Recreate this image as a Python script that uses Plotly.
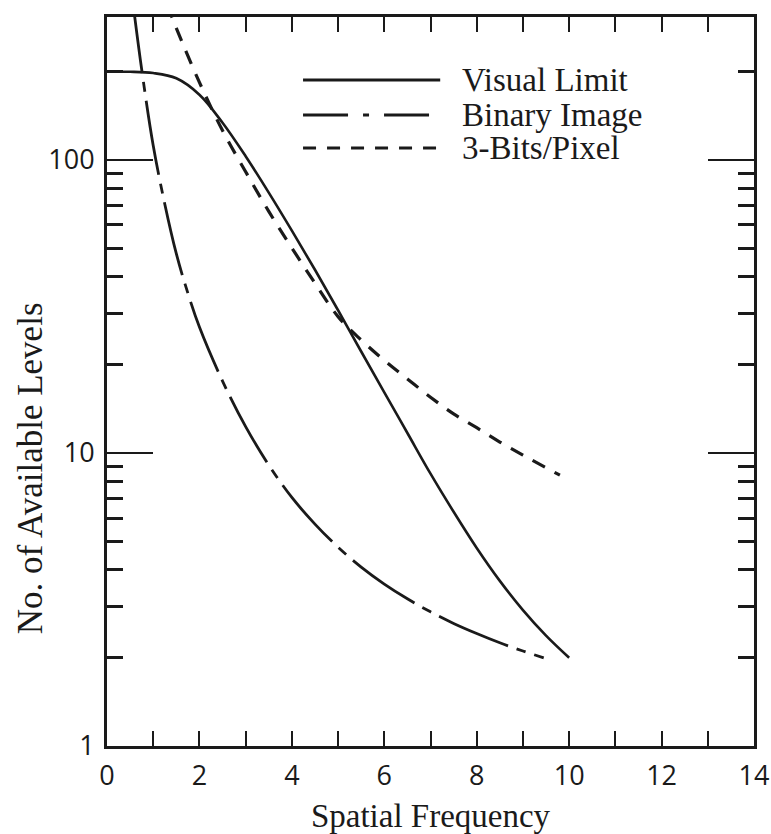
import plotly.graph_objects as go

# ---- data ----
visual_x = [0, 0.5, 1.0, 1.5, 2.0, 2.5, 3.0, 3.5, 4.0, 4.5, 5.0, 5.5, 6.0, 6.5, 7.0, 7.5, 8.0, 8.5, 9.0, 9.5, 10.0]
visual_y = [200, 200, 198, 190, 167, 134, 103, 77.4, 57.4, 42.2, 30.7, 22.2, 16.1, 11.7, 8.5, 6.3, 4.74, 3.66, 2.91, 2.38, 2.0]

binary_x = [0.55, 0.75, 1.0, 1.25, 1.5, 1.75, 2.0, 2.5, 3.0, 3.5, 4.0, 4.5, 5.0, 5.5, 6.0, 6.5, 7.0, 7.5, 8.0, 8.5, 9.0, 9.45]
binary_y = [355, 204, 112, 70.8, 47.9, 35.1, 26.9, 17.6, 12.3, 9.1, 7.05, 5.72, 4.77, 4.08, 3.57, 3.18, 2.87, 2.62, 2.42, 2.25, 2.11, 2.0]

bits3_x = [1.3, 1.5, 2.0, 2.5, 3.0, 3.5, 4.0, 4.5, 5.0, 5.5, 6.0, 6.5, 7.0, 7.5, 8.0, 8.5, 9.0, 9.8]
bits3_y = [339, 282, 184, 126, 91.2, 66.8, 50.1, 38.0, 29.2, 24.3, 20.7, 17.9, 15.5, 13.6, 12.2, 10.9, 9.84, 8.4]

series_names = ["Visual Limit", "Binary Image", "3-Bits/Pixel"]

x_major = [0, 2, 4, 6, 8, 10, 12, 14]
x_minor = list(range(1, 14))
y_major = [1, 10, 100]
y_labels = ["1", "10", "100"]
y_minor = [2, 3, 4, 5, 6, 7, 8, 9, 20, 30, 40, 50, 60, 70, 80, 90, 200]

# ---- styles ----
INK = "#1a1a1a"
SERIF = "Liberation Serif, Times New Roman, serif"
SANS = "Open Sans, Lato, sans-serif"
dash_binary = "75px,9px,10px,9px"
dash_bits = "14px,11px"

fig = go.Figure()
fig.add_trace(go.Scatter(x=visual_x, y=visual_y, mode="lines", name=series_names[0],
                         line=dict(color=INK, width=2.6, shape="spline", smoothing=1.0),
                         showlegend=False))
fig.add_trace(go.Scatter(x=binary_x, y=binary_y, mode="lines", name=series_names[1],
                         line=dict(color=INK, width=2.8, shape="spline", smoothing=1.0, dash=dash_binary),
                         showlegend=False))
fig.add_trace(go.Scatter(x=bits3_x, y=bits3_y, mode="lines", name=series_names[2],
                         line=dict(color=INK, width=3.2, shape="spline", smoothing=1.0, dash=dash_bits),
                         showlegend=False))

# ---- custom legend (long sample lines as in the reference) ----
leg_x0, leg_x1, leg_tx = 0.303, 0.515, 0.545
leg_rows = [0.9136, 0.8656, 0.8203]
leg_dash = ["solid", "45px,15px,6px,15px", "13px,11px"]
for name, yy, dd in zip(series_names, leg_rows, leg_dash):
    fig.add_shape(type="line", xref="paper", yref="paper", x0=leg_x0, x1=leg_x1, y0=yy, y1=yy,
                  line=dict(color=INK, width=3, dash=dd))
    fig.add_annotation(xref="paper", yref="paper", x=leg_tx, y=yy, text=name, showarrow=False,
                       xanchor="left", yanchor="middle",
                       font=dict(family=SERIF, size=33, color=INK))

# y axis title placed low, as in the reference
fig.add_annotation(xref="paper", yref="paper", x=0, y=0.381, xshift=-77, text="No. of Available Levels",
                   textangle=-90, showarrow=False, xanchor="center", yanchor="middle",
                   font=dict(family=SERIF, size=35, color=INK))

fig.update_xaxes(
    range=[0, 14], tickvals=x_major, ticktext=[str(v) for v in x_major],
    ticks="inside", ticklen=15, tickwidth=2.2, tickcolor=INK,
    minor=dict(tickvals=x_minor, ticks="inside", ticklen=15, tickwidth=2.2, tickcolor=INK),
    showline=True, linewidth=3, linecolor=INK, mirror="ticks",
    showgrid=False, zeroline=False,
    tickfont=dict(family=SANS, size=27, color=INK), ticklabelstandoff=4,
    title=dict(text="Spatial Frequency", font=dict(family=SERIF, size=33, color=INK), standoff=12),
)
fig.update_yaxes(
    type="log", range=[0, 2.488], tickvals=y_major, ticktext=y_labels,
    ticks="inside", ticklen=46, tickwidth=2.2, tickcolor=INK,
    minor=dict(tickvals=y_minor, ticks="inside", ticklen=16, tickwidth=2.6, tickcolor=INK),
    showline=True, linewidth=3, linecolor=INK, mirror="ticks",
    showgrid=False, zeroline=False,
    tickfont=dict(family=SANS, size=27, color=INK), ticklabelstandoff=4,
)

fig.update_layout(
    width=771, height=834,
    margin=dict(l=107, r=17, t=17, b=88, autoexpand=False),
    paper_bgcolor="white", plot_bgcolor="white",
    showlegend=False,
)

fig.write_html("out.html")
